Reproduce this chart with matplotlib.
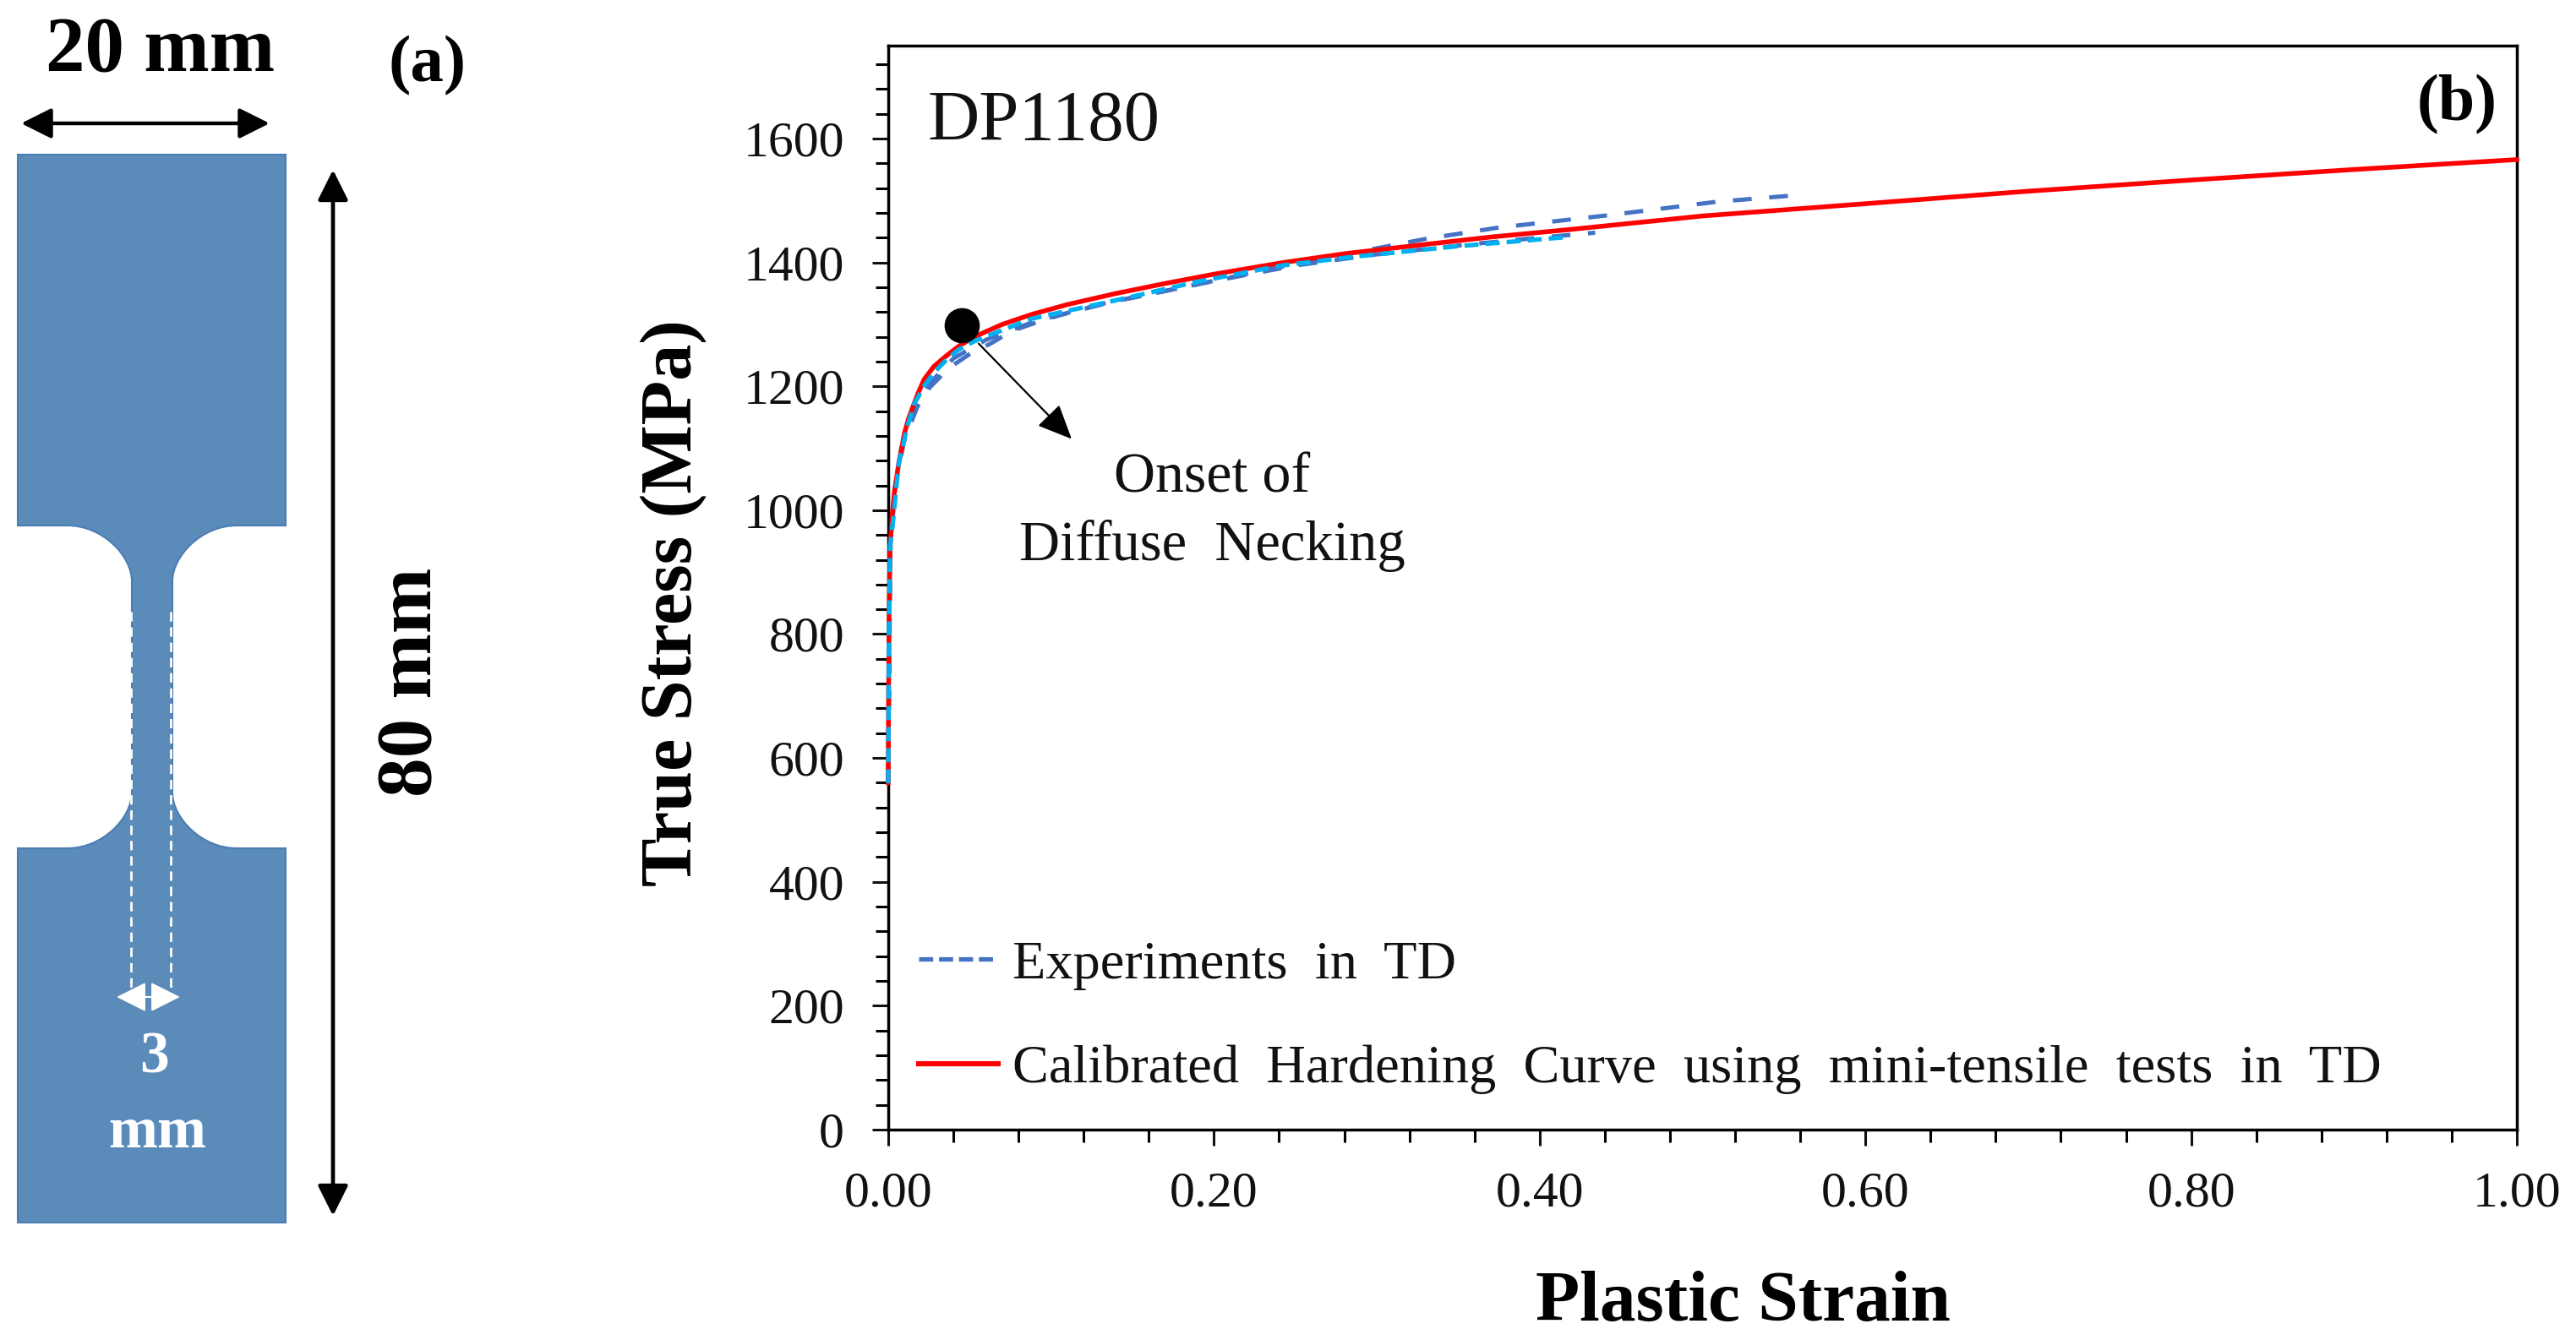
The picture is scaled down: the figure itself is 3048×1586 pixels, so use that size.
import matplotlib
matplotlib.use('Agg')
import matplotlib.pyplot as plt
from matplotlib.lines import Line2D
from matplotlib.patches import PathPatch
from matplotlib.path import Path
from matplotlib.ticker import MultipleLocator, FormatStrFormatter

plt.rcParams['font.family'] = ['Liberation Serif', 'DejaVu Serif']
plt.rcParams['lines.scale_dashes'] = False

W, H = 3048, 1586

# Panel (b) data
red_strain = [0.0, 0.0002, 0.0005, 0.0012, 0.0025, 0.0038, 0.0064, 0.01, 0.0125, 0.015, 0.0185, 0.022, 0.028, 0.036,
              0.044, 0.053, 0.07, 0.088, 0.11, 0.14, 0.17, 0.20, 0.243, 0.28, 0.326, 0.37, 0.418, 0.50, 0.596,
              0.70, 0.80, 0.90, 1.00]
red_stress = [560, 700, 830, 943, 995, 1030, 1075, 1125, 1148, 1166, 1190, 1211, 1232, 1250,
              1266, 1280, 1300, 1316, 1332, 1350, 1366, 1381, 1400, 1414, 1428, 1441, 1453, 1475, 1494,
              1515, 1533, 1550, 1566]

blue_long_strain = [0.0, 0.0012, 0.004, 0.008, 0.0176, 0.0254, 0.0375, 0.05, 0.0635, 0.0756, 0.093, 0.112,
                    0.1327, 0.154, 0.176, 0.2174, 0.2416, 0.2885, 0.33, 0.374, 0.4416, 0.509, 0.56]
blue_long_stress = [560, 930, 1030, 1100, 1166, 1198, 1230, 1252, 1270, 1289, 1305, 1320,
                    1334, 1345, 1357, 1380, 1393, 1417, 1438, 1456, 1476, 1498, 1509]

blue_short_strain = [0.0, 0.0012, 0.004, 0.01, 0.022, 0.04, 0.06, 0.09, 0.14, 0.20, 0.25, 0.30, 0.36, 0.40, 0.434]
blue_short_stress = [560, 940, 1035, 1115, 1195, 1245, 1275, 1305, 1338, 1370, 1395, 1413, 1430, 1440, 1448]

cyan_strain = [0.0, 0.0004, 0.0012, 0.003, 0.0064, 0.0116, 0.016, 0.022, 0.028, 0.0358, 0.043, 0.053, 0.0877, 0.14,
               0.19, 0.2416, 0.285, 0.349, 0.417]
cyan_stress = [559, 800, 943, 984, 1075, 1134, 1172, 1200, 1222, 1243, 1259, 1273, 1309, 1339,
               1369, 1395, 1409, 1426, 1441]

onset_strain = [0.045]
onset_stress = [1299]

# Panel (a) specimen outline in image pixels
grip_left, grip_right = 21, 338
neck_left, neck_right = 156, 204
top, shoulder_top, shoulder_bottom, bottom = 183, 622, 1004, 1447
fillet_x, fillet_y = 76, 66

fig = plt.figure(figsize=(W / 100, H / 100), dpi=100, facecolor='white')

ax = fig.add_axes([1051 / W, 1 - 1337 / H, 1927 / W, 1283 / H])
ax.plot(blue_long_strain, blue_long_stress, color='#4472C4', lw=3.6, dashes=(16, 15), zorder=3, clip_on=False)
ax.plot(blue_short_strain, blue_short_stress, color='#4472C4', lw=3.6, dashes=(16, 15), zorder=3, clip_on=False)
ax.plot(red_strain, red_stress, color='#FF0000', lw=4, zorder=3, clip_on=False)
ax.plot(cyan_strain, cyan_stress, color='#00B0F0', lw=3.8, dashes=(12, 6), zorder=3, clip_on=False)
ax.plot(onset_strain, onset_stress, 'o', color='black', ms=29, zorder=5)

ax.annotate('', xy=(0.1126, 1115), xytext=(0.0555, 1269),
            arrowprops=dict(arrowstyle='-|>,head_length=0.9,head_width=0.4', color='black', lw=1.6,
                            mutation_scale=28, shrinkA=0, shrinkB=0))
ax.text(0.199, 1052, 'Onset of', fontsize=49, ha='center', va='center', color='#111111')
ax.text(0.199, 942, 'Diffuse  Necking', fontsize=48, ha='center', va='center', color='#111111')
ax.text(0.024, 1625, 'DP1180', fontsize=61, ha='left', va='center', color='#111111')
ax.text(0.988, 1655, '(b)', fontsize=56, fontweight='bold', ha='right', va='center')

ax.set_xlim(0, 1)
ax.set_ylim(0, 1750)
ax.xaxis.set_major_locator(MultipleLocator(0.2))
ax.xaxis.set_minor_locator(MultipleLocator(0.04))
ax.xaxis.set_major_formatter(FormatStrFormatter('%.2f'))
ax.yaxis.set_major_locator(MultipleLocator(200))
ax.yaxis.set_minor_locator(MultipleLocator(40))
ax.tick_params(which='major', length=13.5, width=2.2, labelsize=43, colors='#111111')
ax.tick_params(which='minor', length=10.5, width=2.2)
ax.tick_params(axis='x', which='major', pad=22)
ax.tick_params(axis='y', which='major', pad=24)
for spine in ax.spines.values():
    spine.set_linewidth(2.5)

ax.set_xlabel('Plastic Strain', fontsize=61.5, fontweight='bold')
ax.xaxis.set_label_coords(0.525, -0.16)
ax.xaxis.label.set_va('center')
ax.set_ylabel('True Stress (MPa)', fontsize=62, fontweight='bold')
ax.yaxis.set_label_coords(-0.132, 0.486)
ax.yaxis.label.set_va('center')

handles = [Line2D([], [], color='#4472C4', lw=3.8, dashes=(12, 5)),
           Line2D([], [], color='#FF0000', lw=4.4)]
labels = ['Experiments  in  TD', 'Calibrated  Hardening  Curve  using  mini-tensile  tests  in  TD']
ax.legend(handles, labels, loc='lower left', bbox_to_anchor=(-0.003, 0.0), frameon=False, fontsize=46.4,
          handlelength=1.45, handletextpad=0.27, labelspacing=1.0, borderpad=0.15, labelcolor='#111111')

# Overlay in image pixels for the specimen sketch
over = fig.add_axes([0, 0, 1, 1], facecolor='none')
over.set_xlim(0, W)
over.set_ylim(H, 0)
over.axis('off')

k = 0.45
verts = [
    (grip_left, top), (grip_right, top), (grip_right, shoulder_top),
    (neck_right + fillet_x, shoulder_top),
    (neck_right + fillet_x * k, shoulder_top), (neck_right, shoulder_top + fillet_y * (1 - k)), (neck_right, shoulder_top + fillet_y),
    (neck_right, shoulder_bottom - fillet_y),
    (neck_right, shoulder_bottom - fillet_y * (1 - k)), (neck_right + fillet_x * k, shoulder_bottom), (neck_right + fillet_x, shoulder_bottom),
    (grip_right, shoulder_bottom), (grip_right, bottom), (grip_left, bottom), (grip_left, shoulder_bottom),
    (neck_left - fillet_x, shoulder_bottom),
    (neck_left - fillet_x * k, shoulder_bottom), (neck_left, shoulder_bottom - fillet_y * (1 - k)), (neck_left, shoulder_bottom - fillet_y),
    (neck_left, shoulder_top + fillet_y),
    (neck_left, shoulder_top + fillet_y * (1 - k)), (neck_left - fillet_x * k, shoulder_top), (neck_left - fillet_x, shoulder_top),
    (grip_left, shoulder_top), (grip_left, top),
]
codes = [Path.MOVETO, Path.LINETO, Path.LINETO, Path.LINETO,
         Path.CURVE4, Path.CURVE4, Path.CURVE4, Path.LINETO,
         Path.CURVE4, Path.CURVE4, Path.CURVE4,
         Path.LINETO, Path.LINETO, Path.LINETO, Path.LINETO, Path.LINETO,
         Path.CURVE4, Path.CURVE4, Path.CURVE4, Path.LINETO,
         Path.CURVE4, Path.CURVE4, Path.CURVE4, Path.LINETO, Path.CLOSEPOLY]
over.add_patch(PathPatch(Path(verts, codes), facecolor='#5B8BB8', edgecolor='#4A7DB3', lw=1.5))

# Gauge section dashed lines
for x in [154.5, 201.5]:
    over.plot([x, x], [724, 1173], color='white', lw=2, dashes=(8, 5))


def double_arrow(x0, y0, x1, y1, color, lw, size):
    over.annotate('', xy=(x1, y1), xytext=(x0, y0),
                  arrowprops=dict(arrowstyle='<|-|>,head_length=1.0,head_width=0.5', color=color, lw=lw,
                                  mutation_scale=size, shrinkA=0, shrinkB=0))


double_arrow(25, 146, 319, 146, 'black', 3.2, 22)
double_arrow(394, 201, 394, 1439, 'black', 3.4, 22)
double_arrow(138, 1180, 213, 1180, 'white', 1.5, 22)

over.text(190, 84, '20 mm', fontsize=67, fontweight='bold', ha='center', va='baseline')
over.text(506, 96, '(a)', fontsize=57, fontweight='bold', ha='center', va='baseline')
over.text(488, 807, '80 mm', fontsize=67, fontweight='bold', rotation=90, ha='center', va='center')
over.text(183, 1252, '3', fontsize=50, fontweight='bold', color='white', ha='center', va='center')
over.text(186, 1341, 'mm', fontsize=50, fontweight='bold', color='white', ha='center', va='center')

plt.savefig('out.png', dpi=100)
plt.close()
